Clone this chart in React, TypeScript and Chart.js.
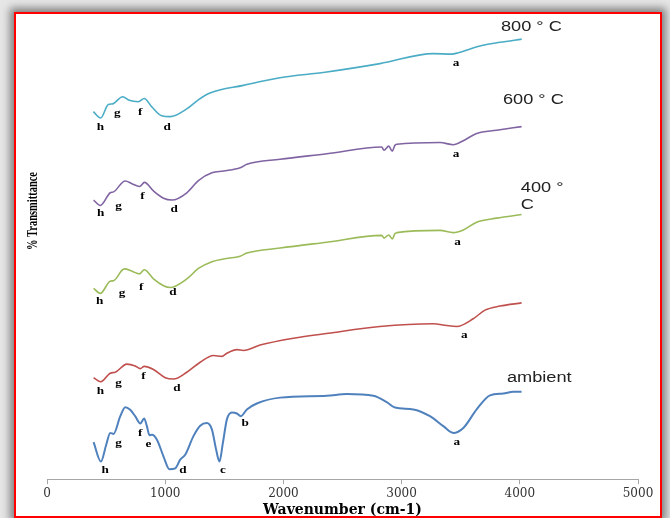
import { useEffect, useRef } from "react";
import { Chart, registerables } from "chart.js";

Chart.register(...registerables);

// ---- data (wavenumber in cm-1, relative % transmittance with vertical offsets) ----
const xTickValues = [0, 1000, 2000, 3000, 4000, 5000];

const wn800 = [392, 454, 519, 552, 640, 696, 772, 823, 885, 970, 1041, 1182, 1280, 1379, 1661, 1971, 2352, 2817, 3268, 3424, 3480, 3663, 3832, 4016];
const t800 = [81.1, 79.7, 82.7, 82.8, 84.4, 83.6, 83.3, 84.0, 82.2, 80.2, 80.0, 81.7, 83.7, 85.2, 86.9, 88.6, 89.8, 91.7, 93.9, 93.8, 94.1, 95.6, 96.4, 97.1];

const wn600 = [394, 451, 535, 563, 662, 719, 783, 825, 901, 986, 1057, 1183, 1281, 1395, 1493, 1634, 1691, 1972, 2367, 2832, 2851, 2891, 2921, 2944, 2959, 3325, 3437, 3522, 3635, 3804, 4015];
const t600 = [61.6, 60.4, 63.2, 63.4, 65.8, 65.2, 64.6, 65.5, 63.6, 62.0, 61.6, 63.2, 65.9, 67.6, 68.0, 68.7, 69.5, 70.6, 71.8, 73.3, 72.6, 73.5, 72.4, 73.7, 73.9, 74.3, 73.8, 74.7, 76.3, 77.0, 77.8];

const wn400 = [394, 451, 535, 563, 654, 719, 783, 823, 901, 986, 1042, 1183, 1281, 1395, 1493, 1634, 1691, 1972, 2367, 2832, 2851, 2891, 2921, 2944, 2959, 3325, 3437, 3522, 3635, 3804, 4015];
const t400 = [42.1, 41.0, 43.7, 43.8, 46.4, 45.9, 45.3, 46.2, 44.2, 42.7, 42.3, 44.2, 46.5, 48.0, 48.6, 49.2, 49.9, 51.0, 52.3, 53.8, 53.2, 53.9, 53.0, 54.2, 54.4, 54.9, 54.4, 55.0, 56.7, 57.6, 58.4];

const wnRed = [394, 456, 535, 577, 676, 746, 789, 822, 901, 1000, 1070, 1183, 1296, 1408, 1479, 1522, 1606, 1662, 1803, 2085, 2380, 2817, 3268, 3381, 3466, 3606, 3705, 3832, 4015];
const tRed = [22.4, 21.5, 23.4, 23.6, 25.4, 25.0, 24.4, 24.9, 24.2, 22.4, 22.1, 23.6, 25.8, 27.3, 27.1, 27.8, 28.6, 28.4, 29.6, 31.1, 32.2, 33.7, 34.3, 33.9, 33.7, 35.4, 37.3, 38.2, 38.9];

const wnAmb = [394, 456, 501, 535, 563, 620, 662, 704, 746, 789, 822, 845, 867, 888, 930, 986, 1036, 1085, 1127, 1169, 1239, 1296, 1352, 1395, 1431, 1459, 1488, 1522, 1564, 1606, 1640, 1691, 1775, 1972, 2367, 2536, 2761, 2874, 2944, 3099, 3240, 3353, 3437, 3522, 3635, 3748, 3860, 3944, 4015];
const tAmb = [8.2, 3.9, 7.6, 10.2, 10.0, 13.9, 15.9, 15.3, 13.9, 12.3, 13.4, 11.7, 9.7, 9.8, 8.7, 5.0, 2.2, 2.4, 4.3, 5.4, 9.5, 11.8, 12.4, 11.0, 6.5, 3.9, 8.0, 13.2, 14.7, 14.5, 13.9, 15.4, 16.7, 18.0, 18.4, 18.8, 18.4, 17.0, 15.8, 15.4, 13.9, 11.7, 10.2, 11.3, 15.4, 18.5, 18.9, 19.3, 19.3];

// peak letters: text, wavenumber, value
const peak800 = ["h", "g", "f", "d", "a"];
const peak800X = [451, 595, 789, 1017, 3460];
const peak800Y = [77.6, 80.7, 80.9, 77.6, 91.8];
const peak600 = ["h", "g", "f", "d", "a"];
const peak600X = [454, 605, 808, 1076, 3460];
const peak600Y = [58.7, 60.2, 62.4, 59.5, 71.7];
const peak400 = ["h", "g", "f", "d", "a"];
const peak400X = [445, 634, 797, 1065, 3474];
const peak400Y = [39.3, 41.1, 42.4, 41.3, 52.3];
const peakRed = ["h", "g", "f", "d", "a"];
const peakRedX = [451, 605, 817, 1099, 3530];
const peakRedY = [19.5, 21.3, 22.7, 20.0, 31.7];
const peakAmb = ["h", "g", "f", "e", "d", "c", "b", "a"];
const peakAmbX = [493, 605, 789, 859, 1150, 1488, 1676, 3466];
const peakAmbY = [2.1, 8.0, 10.1, 7.8, 2.1, 2.1, 12.3, 8.2];

// series labels (left-aligned)
const tempText = ["800 ° C", "600 ° C", "400 °", "C", "ambient"];
const tempX = [3840, 3857, 4009, 4009, 3891];
const tempY = [99.8, 83.6, 64.2, 60.4, 22.4];

const toPts = (xs: number[], ys: number[]) => xs.map((x, i) => ({ x, y: ys[i] }));

function drawStretched(ctx: CanvasRenderingContext2D, text: string, px: number, py: number, sx: number) {
  ctx.save();
  ctx.translate(px, py);
  ctx.scale(sx, 1);
  ctx.fillText(text, 0, 0);
  ctx.restore();
}

const textPlugin = {
  id: "ftirText",
  afterDatasetsDraw(chart: any) {
    const { ctx, scales, chartArea } = chart;
    const xs = scales.x;
    const ys = scales.y;
    ctx.save();
    ctx.fillStyle = "#000";
    ctx.textAlign = "center";
    ctx.textBaseline = "middle";
    ctx.font = 'bold 11px "Liberation Serif"';
    const groups: [string[], number[], number[]][] = [
      [peak800, peak800X, peak800Y],
      [peak600, peak600X, peak600Y],
      [peak400, peak400X, peak400Y],
      [peakRed, peakRedX, peakRedY],
      [peakAmb, peakAmbX, peakAmbY],
    ];
    for (const [t, gx, gy] of groups) {
      t.forEach((s, i) => drawStretched(ctx, s, xs.getPixelForValue(gx[i]), ys.getPixelForValue(gy[i]), 1.2));
    }
    ctx.textAlign = "left";
    ctx.font = '14px "Liberation Sans"';
    ctx.fillStyle = "#222";
    tempText.forEach((s, i) => drawStretched(ctx, s, xs.getPixelForValue(tempX[i]), ys.getPixelForValue(tempY[i]), 1.3));

    // y-axis title
    ctx.fillStyle = "#000";
    ctx.textAlign = "center";
    ctx.font = 'bold 15px "Liberation Serif"';
    const title = "% Transmittance";
    const w = ctx.measureText(title).width;
    ctx.translate(chartArea.left - 14, 211);
    ctx.rotate(-Math.PI / 2);
    ctx.scale(78 / w, 1);
    ctx.fillText(title, 0, 0);
    ctx.restore();
  },
};

export default function App() {
  const ref = useRef<HTMLCanvasElement | null>(null);
  useEffect(() => {
    if (!ref.current) return;
    const chart = new Chart(ref.current, {
      type: "line",
      data: {
        datasets: [
          { label: "800 ° C", data: toPts(wn800, t800), borderColor: "#4BACC6", borderWidth: 1.6 },
          { label: "600 ° C", data: toPts(wn600, t600), borderColor: "#8064A2", borderWidth: 1.6 },
          { label: "400 ° C", data: toPts(wn400, t400), borderColor: "#9BBB59", borderWidth: 1.6 },
          { label: "unlabelled", data: toPts(wnRed, tRed), borderColor: "#C0504D", borderWidth: 1.6 },
          { label: "ambient", data: toPts(wnAmb, tAmb), borderColor: "#4F81BD", borderWidth: 2 },
        ].map((d) => ({ ...d, fill: false, pointRadius: 0, cubicInterpolationMode: "monotone" as const })),
      },
      options: {
        animation: false,
        responsive: false,
        maintainAspectRatio: false,
        layout: { padding: { left: 47, right: 32, top: 26, bottom: 0 } },
        plugins: { legend: { display: false }, tooltip: { enabled: false } },
        scales: {
          x: {
            type: "linear",
            min: 0,
            max: 5000,
            afterBuildTicks: (axis: any) => {
              axis.ticks = xTickValues.map((v) => ({ value: v }));
            },
            ticks: {
              color: "#333",
              font: { family: '"DejaVu Serif"', size: 12 },
              padding: 2,
              maxRotation: 0,
              callback: (v: any) => String(v),
            },
            grid: { drawOnChartArea: false, drawTicks: true, tickLength: 5, color: "#A6A6A6" },
            border: { display: true, color: "#A6A6A6" },
            title: {
              display: true,
              text: "Wavenumber (cm-1)",
              color: "#000",
              font: { family: '"DejaVu Serif"', weight: "bold", size: 14, lineHeight: 1.1 },
              padding: { top: 0, bottom: 0 },
            },
          },
          y: { display: false, min: 0, max: 100 },
        },
      },
      plugins: [textPlugin],
    });
    return () => chart.destroy();
  }, []);

  return (
    <div style={{ position: "fixed", left: 0, top: 0, width: 670, height: 518, background: "#e6e6e6", overflow: "hidden" }}>
      <div
        style={{
          position: "absolute",
          left: 14,
          top: 12,
          width: 648,
          height: 506,
          boxSizing: "border-box",
          border: "2px solid #ff0000",
          background: "#fff",
          boxShadow: "0 0 8px 4px rgba(0,0,0,0.45)",
        }}
      />
      <canvas ref={ref} width={670} height={518} style={{ position: "absolute", left: 0, top: 0 }} />
    </div>
  );
}
